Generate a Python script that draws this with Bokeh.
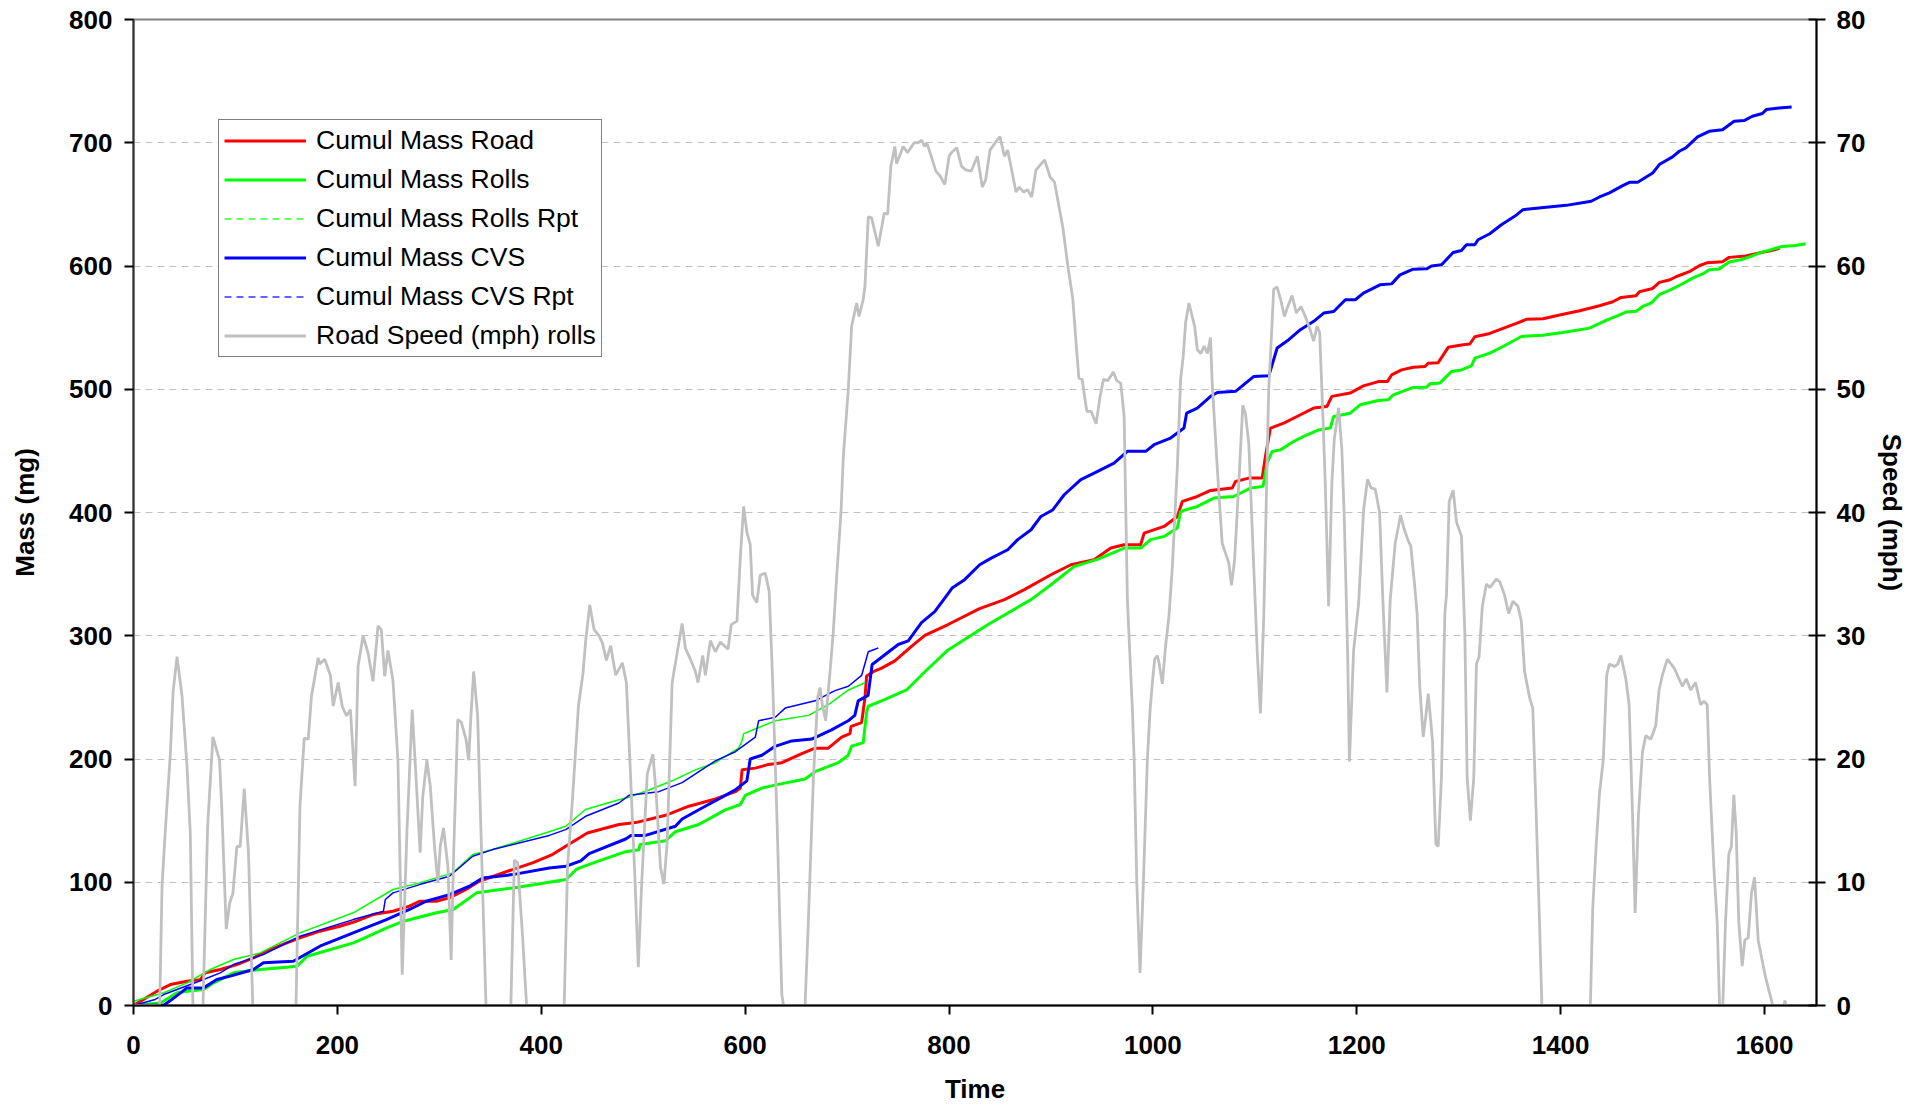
from bokeh.plotting import figure
from bokeh.models import Range1d, LinearAxis, Legend, LegendItem, FixedTicker
from bokeh.embed import file_html
from bokeh.resources import INLINE

# ---------------- data ----------------
T_ROAD = [0, 23.1, 36.2, 52.5, 65.5, 70.4, 85.1, 101.4, 117.7, 134, 150.3, 163.3, 182.9, 202.4, 218.7, 235, 254.5, 270.8, 280.6, 296.9, 309.9, 326.2, 339.2, 371.8, 391.4, 410.9, 424, 445.2, 476.2, 492.6, 522, 544.8, 570.9, 590.4, 595.3, 597, 610, 623, 636, 655.6, 668.6, 681.6, 694.7, 702.8, 704, 714.3, 717.6, 719.2, 725.7, 733.9, 746.9, 763.2, 776.3, 799.1, 830, 854.4, 873.9, 900, 919.6, 942.4, 958.7, 971.8, 988, 991.4, 1011, 1024, 1028.9, 1043.6, 1056.6, 1077.8, 1081.1, 1094.1, 1107.2, 1110.4, 1115.3, 1128.4, 1141.4, 1157.7, 1170.7, 1175.6, 1193.5, 1206.5, 1221.2, 1230, 1234.2, 1244, 1255.4, 1266.8, 1270.1, 1279.9, 1289.7, 1302.7, 1310.9, 1315.8, 1330.5, 1343.5, 1356.6, 1366.4, 1382.7, 1399, 1418.6, 1438.1, 1451.2, 1459.3, 1474, 1477.3, 1490.3, 1496.8, 1506.6, 1513.1, 1526.2, 1536, 1544.1, 1558.8, 1565.3, 1581.6, 1597.9, 1606, 1614.8]
MASS_ROAD = [0, 11.6, 17, 19.7, 21, 26.5, 29.2, 33.2, 38.7, 45.4, 50.8, 54.9, 60.3, 64.3, 68.4, 73.8, 76.5, 80.6, 84.6, 84.6, 87.3, 94.1, 100.8, 110.3, 115.7, 122.5, 129.2, 140, 146.8, 148.4, 154.3, 161.7, 167.6, 173.5, 176.4, 191.2, 192.6, 195.6, 197, 204.4, 208.8, 208.8, 217.7, 220.6, 226.5, 229.5, 250.1, 267.3, 270.8, 273.7, 279.6, 291.4, 300.3, 309.1, 322, 329.3, 337.4, 349.5, 357.6, 361.7, 371.2, 373.8, 373.8, 383.3, 388.7, 396.8, 409, 413, 417.9, 419.8, 425.2, 427.9, 427.9, 445.5, 468.5, 472.5, 477.9, 484.7, 486, 494.2, 496.9, 502.7, 506.2, 506.2, 511.6, 515.7, 517.8, 518.4, 521.1, 521.6, 534, 535.9, 536.7, 542.6, 545.3, 549.4, 553.4, 556.7, 557.2, 560.2, 563.7, 567.8, 571, 574.5, 575.9, 579.1, 581.8, 586.7, 588.6, 591.3, 595.4, 600.2, 602.7, 603.5, 607, 608.1, 611.1, 612.4, 614.3]

T_ROLLS = [0, 26.4, 42.7, 52.5, 68.8, 78.6, 98.2, 124.7, 160.5, 170.3, 215.9, 248.5, 264.8, 297.4, 313.7, 336.5, 372.4, 424.5, 434.3, 437.1, 456.7, 482.8, 495.8, 497, 522, 531.6, 554.5, 580.6, 595.3, 600.2, 616.4, 632.8, 658.8, 668.6, 691.4, 701.1, 704.4, 715.9, 719.2, 720.8, 733.9, 758.4, 776.3, 799.1, 840, 880.5, 900, 922.9, 945.7, 971.8, 988.1, 997.8, 1011, 1024, 1027.2, 1043.6, 1059.9, 1079.4, 1095.7, 1108.1, 1112, 1116.9, 1125.1, 1138.1, 1147.9, 1162.6, 1174, 1177.3, 1193.6, 1203.3, 1221.2, 1231, 1235.8, 1255.4, 1268.5, 1271.7, 1281.5, 1292.9, 1302.7, 1312.5, 1315.8, 1330.5, 1343.5, 1361.5, 1382.7, 1402.2, 1428.3, 1444.6, 1454.4, 1464.2, 1474, 1480.5, 1488.7, 1496.8, 1508.2, 1519.7, 1529.5, 1540.9, 1545.8, 1555.5, 1565.3, 1576.8, 1586.6, 1597.9, 1617.5, 1630.5, 1640.3]
MASS_ROLLS = [0, 2, 10.3, 11.6, 13, 18.4, 26.5, 29.2, 31.9, 40, 50.8, 63, 68.4, 75.2, 77.9, 91.4, 95.4, 102.2, 110.3, 111.5, 117.4, 124.8, 126.3, 130.7, 133.6, 141, 146.9, 158.7, 163.1, 170.5, 176.4, 179.4, 183.8, 189.7, 197, 203, 210.3, 213.3, 238.3, 242.8, 247.2, 256, 270.8, 288.5, 310, 329.3, 341.4, 356.3, 362, 371.1, 371.1, 378, 380.6, 387.4, 400.9, 404.9, 411.7, 413, 419.8, 421.2, 440, 449.5, 450.8, 457.6, 461.7, 467, 468.5, 477.9, 480.6, 487.4, 490.9, 491.4, 495.5, 501.5, 501.7, 504.4, 505, 514.4, 515.7, 519, 525.2, 529.3, 534.7, 542.8, 543.9, 546.1, 549.6, 555.8, 559.1, 562.6, 563.2, 567.2, 569.9, 576.7, 580.8, 585.6, 590.2, 594.3, 597, 597.5, 603.2, 605.1, 607.8, 611.3, 615.9, 616.7, 618]

T_ROLLS_RPT = [0, 29.7, 52.5, 75.3, 98.1, 124.2, 163.3, 215.5, 254.6, 280.6, 313.2, 332.8, 352.3, 407.8, 424, 443.5, 476.2, 486, 505.6, 528.4, 551.2, 570.8, 593.6, 597, 598.6, 629.6, 662.2, 681.8, 701.3, 717.6]
MASS_ROLLS_RPT = [3.5, 10.3, 18.4, 29.2, 37.3, 42.7, 58.9, 75.2, 94.1, 99.5, 107.6, 122.5, 126.5, 141, 145.4, 159, 167, 169, 174.9, 182.3, 191.2, 197, 208.8, 214.7, 220.6, 231, 235.4, 244.2, 256, 261.9]

T_CVS = [0, 30, 36.2, 52.5, 68.8, 81.8, 94.8, 117.7, 127.5, 156.8, 182.9, 215.5, 248.1, 270.8, 287.1, 309.9, 329.5, 342.5, 371.8, 407.8, 424.1, 438.8, 447, 482.8, 488, 502.3, 531.6, 538.2, 557.7, 577.3, 590.3, 601.7, 605, 616.4, 629.4, 645.7, 665.3, 684.8, 701.1, 707.6, 710.9, 720.6, 724.6, 733.9, 750.2, 760, 773, 786, 799.1, 803, 815.3, 830.1, 841.4, 857.6, 867.4, 880.5, 890.2, 901.6, 913, 929.3, 942.4, 961.9, 975, 993, 1001.2, 1017.4, 1030.5, 1033.1, 1043.6, 1056.6, 1063.2, 1081.1, 1099.1, 1113.8, 1121.9, 1133.3, 1144.7, 1157.8, 1167.6, 1177.4, 1188.8, 1198.6, 1206.5, 1222.8, 1234.2, 1242.4, 1255.4, 1268.5, 1273.4, 1283.2, 1294.6, 1302.7, 1307.6, 1315.8, 1319, 1330.5, 1341.9, 1354.9, 1363.1, 1385.9, 1405.5, 1430, 1438.1, 1447.9, 1460.9, 1467.5, 1475.6, 1490.3, 1496.8, 1509.8, 1516.4, 1522.9, 1534.3, 1545.7, 1558.8, 1570.2, 1580, 1588.1, 1597.9, 1601.8, 1614.2, 1626.6]
MASS_CVS = [0, 0.5, 4, 14.3, 14.3, 21.1, 23.8, 29.2, 34.6, 35.9, 48.1, 58.9, 69.7, 77.9, 84.6, 90, 96.8, 103.5, 106.2, 111.5, 113, 117.4, 123.3, 135.1, 138, 138, 145.4, 151.3, 160.2, 169, 174.9, 182.3, 200, 203, 210.3, 214.7, 216.2, 223.6, 231, 235.4, 247.2, 251.6, 276.7, 282.6, 292.9, 295.9, 310.6, 319.5, 334.2, 338.7, 345.5, 357.6, 363, 369.8, 378, 386, 396.8, 402, 414.4, 426.6, 432, 440, 449.6, 449.6, 455, 460.4, 468.5, 480.6, 484.7, 494.2, 497.4, 498.3, 510.4, 511, 533.5, 540.2, 548.3, 555.1, 561.8, 563.1, 572.6, 572.6, 578, 584.7, 585.5, 592.8, 597.4, 597.7, 600, 601, 611, 612.6, 617.2, 617.2, 621.3, 626.2, 633.5, 640.3, 645.7, 647.6, 649.2, 652.5, 656, 659.3, 665.2, 667.9, 667.9, 675.5, 682.3, 688.5, 693.1, 695.8, 704.7, 709.3, 710.6, 717.4, 718, 721.5, 723.7, 726.9, 728.2, 729.1]

T_CVS_RPT = [0, 20.4, 29.7, 68.8, 85.1, 98.1, 127.5, 163.3, 215.5, 245.2, 247, 254.6, 280.6, 309.9, 332.8, 352.3, 407.8, 424, 443.5, 476.2, 486, 515.3, 538.2, 570.8, 590.4, 610, 613.2, 629.6, 639.3, 668.6, 688.2, 701.3, 714.3, 720.8, 730.6]
MASS_CVS_RPT = [0, 4.6, 8.9, 21.1, 26.5, 33.2, 41.4, 56.2, 69.7, 76.5, 86, 91.4, 98.1, 104.9, 121.1, 126.5, 138, 142.7, 153.5, 164.3, 170.5, 173.5, 180.8, 198.5, 205.9, 217.7, 231, 233.9, 241.3, 247.2, 255.5, 259, 267.8, 287, 290]

T_SPEED = [0, 25.7, 28, 31.3, 36.2, 38.8, 42.7, 47.6, 52.5, 55.7, 58.3, 68.2, 72.7, 77.9, 84.4, 86.5, 91, 94.3, 97.5, 101.4, 104.7, 108.6, 112.8, 117, 159.4, 163.3, 167.5, 171.4, 174.6, 181.1, 182.7, 187.6, 193.1, 195.9, 200.8, 204.7, 208.9, 212.8, 217.4, 220.3, 225.2, 230.1, 235, 239.9, 243.1, 246.4, 249.6, 254.5, 259.4, 263.6, 268.2, 273.4, 277.3, 281.2, 283.8, 287.8, 291.1, 295.3, 298.6, 300.9, 304.1, 308.4, 311.6, 314.2, 318.1, 321.5, 326.2, 328.8, 331, 333.7, 337.6, 340.9, 345.8, 370.2, 373.6, 376.8, 381.7, 385.6, 422.5, 425.8, 430.6, 436.5, 441, 443.7, 447.6, 451.8, 456.7, 460, 463.9, 468.1, 473, 479.6, 483.5, 487.7, 491.9, 495.2, 498.4, 504, 507.2, 509.5, 512.8, 517, 520.3, 523.5, 528.4, 533.3, 538.2, 541.4, 546.3, 551.2, 553.8, 558.4, 561, 565.9, 570.8, 575.7, 583.2, 586.4, 592, 595.2, 598.5, 601.7, 605, 607.3, 611.5, 614.8, 619.7, 623.6, 626.8, 631.1, 636, 637.6, 658.8, 662, 667, 671.2, 673.5, 675.8, 679, 683.3, 686.5, 689.8, 694.1, 696.3, 701.2, 704.5, 709.4, 711.7, 715.9, 717.6, 720.8, 724.1, 730.6, 736.5, 739.8, 743, 746.9, 748.5, 755.1, 759.3, 765.8, 769.7, 773.3, 775.9, 778.2, 782.2, 787.1, 791.3, 795.9, 800.1, 802.4, 807.6, 812.2, 816.4, 821.9, 827.8, 832.7, 836, 840.2, 847.1, 850, 854.3, 857.5, 860.8, 865.7, 869, 873.2, 877, 881.1, 885.3, 893.8, 899.3, 903.5, 908.4, 911.7, 916.6, 921.5, 924.7, 927.4, 930.6, 935.2, 939.5, 944.3, 948.2, 951.5, 955.7, 961.3, 964.5, 968.5, 971.8, 975, 979.9, 981.6, 984.2, 987.4, 990.7, 994.6, 997.3, 999.5, 1001.8, 1004.4, 1006, 1009.3, 1012.5, 1015.8, 1019.1, 1024, 1027.2, 1029.8, 1032.1, 1035.4, 1038.6, 1041, 1043.6, 1047, 1050.3, 1053.5, 1056.5, 1058.2, 1063.1, 1068, 1071.2, 1074.5, 1077.1, 1080.1, 1084.3, 1088.2, 1090.8, 1094.1, 1098.3, 1102.3, 1105.5, 1108.8, 1113.6, 1115.2, 1118.5, 1121.8, 1125.3, 1129, 1132.3, 1136.5, 1140.7, 1145.3, 1149.6, 1154.4, 1157.7, 1161, 1163.6, 1166.8, 1169.1, 1172.4, 1175.6, 1177.9, 1182.2, 1185.4, 1187.7, 1191, 1192.8, 1196.9, 1201.8, 1206.7, 1210.6, 1213.9, 1218.1, 1222.4, 1225.6, 1229.6, 1232.8, 1237.7, 1243, 1246.3, 1250.5, 1253, 1257, 1259.2, 1261.8, 1265.2, 1267.8, 1270.1, 1274.3, 1277.6, 1279.9, 1283.1, 1286.4, 1288, 1290.7, 1294.6, 1297.9, 1302.7, 1306, 1308.3, 1311.5, 1314.8, 1317.4, 1320, 1323.2, 1327.2, 1330.5, 1336.9, 1340.2, 1345, 1349, 1353.2, 1358.1, 1361.4, 1364.6, 1369.5, 1372.7, 1376, 1379.3, 1381.6, 1429.2, 1431.5, 1434.8, 1438, 1441.9, 1445.2, 1447.8, 1452.7, 1456, 1459.1, 1464, 1467.2, 1470.5, 1473.1, 1476.4, 1480.3, 1483.6, 1488.4, 1493.3, 1496.6, 1499.8, 1504.7, 1511.2, 1519.4, 1523.3, 1527.5, 1532.4, 1537.3, 1540.6, 1543.8, 1546.1, 1550.3, 1553.6, 1555.9, 1559.1, 1561.7, 1565, 1567.5, 1569.9, 1572.2, 1574.8, 1578.1, 1580.7, 1584, 1587.2, 1590.2, 1593.8, 1601, 1608.1, 1619, 1620, 1621, 1640]
SPEED = [0, 0, 9.7, 14.3, 20.5, 25.4, 28.3, 25.1, 19.4, 14.0, 0, 0, 14.5, 21.8, 19.9, 16.2, 6.2, 8.3, 9.1, 12.9, 12.9, 17.6, 12.4, 0, 0, 16.2, 21.7, 21.6, 25.1, 28.2, 27.7, 28.1, 26.8, 24.3, 26.2, 24.3, 23.5, 24.0, 17.8, 27.5, 30.0, 28.6, 26.3, 30.8, 30.5, 26.7, 28.8, 26.4, 19.9, 2.5, 14.0, 24.0, 18.3, 12.4, 17.0, 19.9, 17.8, 12.9, 9.95, 12.9, 14.4, 11.3, 3.7, 12.7, 23.2, 23.0, 21.6, 19.9, 23.5, 27.1, 23.5, 14.0, 0, 0, 11.8, 11.6, 5.6, 0, 0, 11.3, 16.7, 24.3, 27.0, 29.7, 32.5, 30.5, 30.0, 29.4, 28.0, 29.2, 26.8, 27.8, 26.2, 18.5, 10.3, 3.1, 9.7, 18.8, 19.7, 20.4, 17.1, 11.2, 9.85, 13.2, 26.2, 28.6, 31.0, 29.0, 28.1, 27.1, 26.2, 28.4, 26.8, 29.6, 28.7, 29.5, 28.9, 30.9, 31.2, 36.2, 40.5, 38.4, 37.4, 33.3, 32.7, 34.9, 35.1, 33.6, 26.8, 15.6, 0.9, 0, 0, 6.8, 18.5, 25.0, 25.8, 24.4, 23.1, 27.1, 30.3, 34.8, 40.1, 44.5, 50.0, 55.1, 57.0, 55.9, 57.3, 58.4, 64.0, 63.9, 61.6, 64.3, 64.2, 68.1, 69.7, 68.3, 69.7, 69.2, 70.0, 70.0, 70.2, 69.7, 70.0, 69.0, 67.7, 67.3, 66.6, 68.9, 69.2, 69.6, 68.1, 67.8, 67.7, 68.9, 66.4, 67.0, 69.4, 70.2, 70.5, 68.9, 69.4, 68.1, 66.0, 66.4, 66.0, 66.2, 65.6, 67.8, 68.6, 67.2, 66.8, 64.6, 63.1, 60.0, 57.3, 53.7, 50.9, 50.8, 48.2, 48.2, 47.2, 49.4, 50.8, 50.7, 51.4, 50.7, 50.5, 47.8, 32.9, 24.0, 20.0, 10.0, 2.65, 10.0, 20.0, 24.0, 26.2, 28.1, 28.4, 27.8, 26.1, 29.2, 31.6, 35.6, 43.7, 50.8, 52.7, 55.4, 57.0, 55.9, 55.1, 53.2, 52.9, 53.5, 52.9, 54.2, 50.5, 43.7, 37.5, 36.7, 35.9, 34.1, 36.1, 42.4, 48.7, 48.0, 45.6, 36.9, 28.8, 23.7, 31.6, 50.0, 52.4, 58.1, 58.3, 57.3, 55.9, 56.7, 57.6, 56.2, 56.7, 55.9, 54.8, 53.9, 55.1, 54.6, 47.8, 42.4, 32.4, 42.4, 45.9, 48.5, 45.1, 39.7, 28.8, 19.8, 28.8, 32.6, 40.2, 42.7, 42.0, 41.9, 40.0, 32.9, 25.4, 32.9, 37.5, 39.8, 38.7, 37.7, 37.3, 33.9, 31.8, 25.9, 21.8, 23.5, 25.3, 21.5, 13.1, 12.9, 18.5, 31.8, 33.3, 40.9, 41.8, 39.2, 38.1, 30.3, 18.5, 15.0, 18.5, 27.7, 28.3, 32.4, 34.2, 33.9, 34.6, 34.4, 33.3, 31.8, 32.8, 32.4, 31.2, 27.1, 25.0, 24.1, 15.6, 6.7, 0, 0, 7.9, 12.9, 17.1, 20.0, 26.8, 27.7, 27.5, 27.7, 28.4, 26.5, 24.4, 15.6, 7.5, 15.6, 20.6, 21.9, 21.6, 22.7, 25.6, 26.8, 28.1, 27.4, 25.9, 26.5, 25.6, 26.2, 24.4, 24.7, 24.4, 18.5, 11.2, 6.7, 0, 0, 6.7, 12.3, 12.9, 17.1, 14.1, 6.7, 3.2, 5.3, 5.5, 9.1, 10.4, 5.3, 2.3, 0, 0, 0.4, 0, 0]

X_TICKS = [0, 200, 400, 600, 800, 1000, 1200, 1400, 1600]
MASS_TICKS = [0, 100, 200, 300, 400, 500, 600, 700, 800]
SPEED_TICKS = [0, 10, 20, 30, 40, 50, 60, 70, 80]

n = min(len(T_SPEED), len(SPEED))
T_SPEED, SPEED = T_SPEED[:n], SPEED[:n]

# ---------------- figure ----------------
FONT = "Liberation Sans"
p = figure(width=1910, height=1106, output_backend="svg", toolbar_location=None,
           x_range=Range1d(0, 1651), y_range=Range1d(0, 800),
           min_border_left=133, min_border_right=89, min_border_top=19, min_border_bottom=100)
p.extra_y_ranges = {"speed": Range1d(0, 80)}
p.background_fill_color = "white"
p.border_fill_color = "white"
p.outline_line_color = "#808080"
p.outline_line_width = 2

p.xgrid.visible = False
p.ygrid.grid_line_color = "#c0c0c0"
p.ygrid.grid_line_dash = "7 5"
p.ygrid.grid_line_width = 1
p.ygrid.ticker = FixedTicker(ticks=MASS_TICKS)


def style_axis(ax, label):
    ax.axis_label = label
    ax.axis_label_text_font = FONT
    ax.axis_label_text_font_style = "bold"
    ax.axis_label_text_font_size = "26px"
    ax.axis_label_text_color = "black"
    ax.major_label_text_font = FONT
    ax.major_label_text_font_style = "bold"
    ax.major_label_text_font_size = "26px"
    ax.major_label_text_color = "black"
    ax.axis_line_color = "black"
    ax.axis_line_width = 2
    ax.major_tick_line_color = "black"
    ax.major_tick_line_width = 2
    ax.major_tick_out = 9
    ax.major_tick_in = 0
    ax.minor_tick_line_color = None


xa = p.xaxis[0]
style_axis(xa, "Time")
xa.ticker = FixedTicker(ticks=X_TICKS)
xa.major_label_standoff = 21
xa.axis_label_standoff = 17

ya = p.yaxis[0]
style_axis(ya, "Mass (mg)")
ya.ticker = FixedTicker(ticks=MASS_TICKS)
ya.major_label_standoff = 12
ya.axis_label_standoff = 26
ya.axis_line_color = "#333333"

ra = LinearAxis(y_range_name="speed")
style_axis(ra, "Speed (mph)")
ra.ticker = FixedTicker(ticks=SPEED_TICKS)
ra.major_tick_in = 8
ra.major_label_standoff = 11
ra.axis_label_standoff = 9
p.add_layout(ra, "right")

# ---------------- series ----------------
r_road = p.line(T_ROAD, MASS_ROAD, line_color="#FF0000", line_width=3)
r_rolls = p.line(T_ROLLS, MASS_ROLLS, line_color="#00FF00", line_width=3)
r_rolls_rpt = p.line(T_ROLLS_RPT, MASS_ROLLS_RPT, line_color="#00FF00", line_width=1.5)
r_cvs = p.line(T_CVS, MASS_CVS, line_color="#0000FF", line_width=3)
r_cvs_rpt = p.line(T_CVS_RPT, MASS_CVS_RPT, line_color="#0000FF", line_width=1.5)
r_speed = p.line(T_SPEED, SPEED, line_color="#C0C0C0", line_width=2.8, y_range_name="speed")

# legend-only proxies for the dashed "Rpt" entries
nan = float("nan")
leg_rolls_rpt = p.line([nan], [nan], line_color="#33FF33", line_width=1.5, line_dash="7 5")
leg_cvs_rpt = p.line([nan], [nan], line_color="#3333FF", line_width=1.5, line_dash="7 5")

legend = Legend(items=[
    LegendItem(label="Cumul Mass Road", renderers=[r_road]),
    LegendItem(label="Cumul Mass Rolls", renderers=[r_rolls]),
    LegendItem(label="Cumul Mass Rolls Rpt", renderers=[leg_rolls_rpt]),
    LegendItem(label="Cumul Mass CVS", renderers=[r_cvs]),
    LegendItem(label="Cumul Mass CVS Rpt", renderers=[leg_cvs_rpt]),
    LegendItem(label="Road Speed (mph) rolls", renderers=[r_speed]),
])
legend.location = (85, 648)
legend.label_text_font = FONT
legend.label_text_font_size = "26.5px"
legend.label_text_color = "black"
legend.label_height = 31
legend.glyph_height = 31
legend.glyph_width = 82
legend.label_standoff = 10
legend.spacing = 8
legend.padding = 5
legend.margin = 0
legend.border_line_color = "black"
legend.border_line_width = 1
legend.background_fill_color = "white"
legend.background_fill_alpha = 1
p.add_layout(legend)

open("out.html", "w").write(file_html(p, INLINE))
